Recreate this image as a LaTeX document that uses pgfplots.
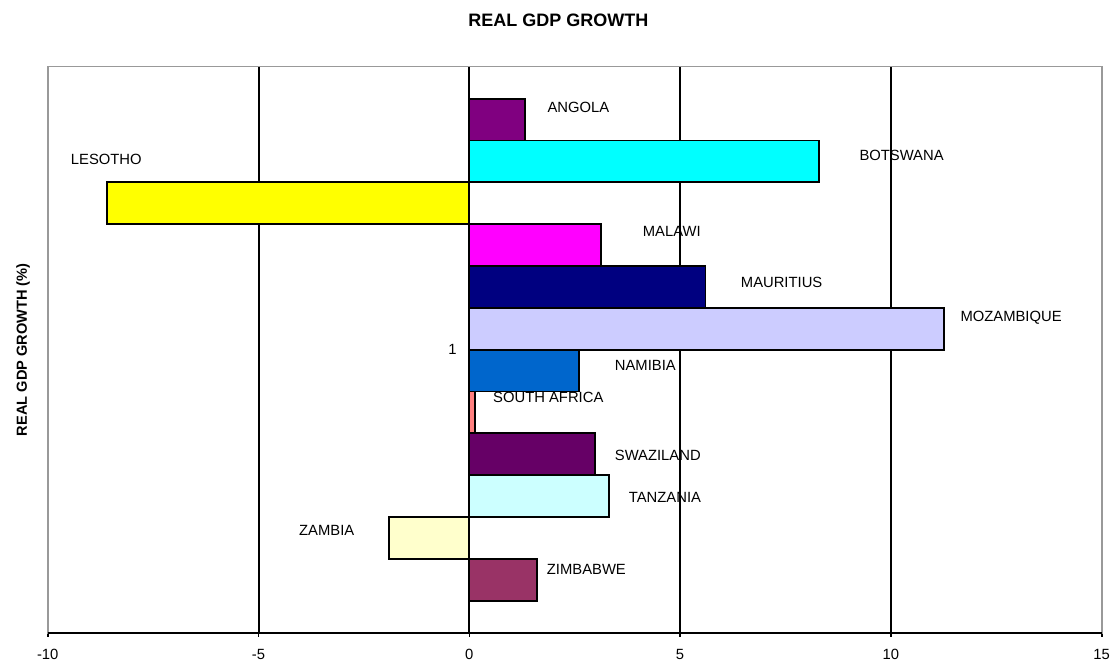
\documentclass[border=0pt]{standalone}
\usepackage{pgfplots}
\pgfplotsset{compat=1.18}
\usepackage{fontspec}
\setmainfont{Liberation Sans}
\definecolor{cAngola}{HTML}{800080}
\definecolor{cBotswana}{HTML}{00FFFF}
\definecolor{cLesotho}{HTML}{FFFF00}
\definecolor{cMalawi}{HTML}{FF00FF}
\definecolor{cMauritius}{HTML}{000080}
\definecolor{cMozambique}{HTML}{CCCCFF}
\definecolor{cNamibia}{HTML}{0066CC}
\definecolor{cSouthAfrica}{HTML}{FF8080}
\definecolor{cSwaziland}{HTML}{660066}
\definecolor{cTanzania}{HTML}{CCFFFF}
\definecolor{cZambia}{HTML}{FFFFCC}
\definecolor{cZimbabwe}{HTML}{993366}
\definecolor{bordergray}{HTML}{999999}
\begin{document}
\begin{tikzpicture}
\begin{axis}[
  scale only axis, width=527pt, height=283pt,
  xmin=-10, xmax=15, ymin=-0.265, ymax=13.265,
  xtick={-10,-5,0,5,10,15},
  ytick=\empty,
  axis line style={draw=bordergray, line width=0.8pt},
  tick align=outside, xtick pos=left,
  major tick length=2pt,
  x tick style={black, line width=0.8pt},
  extra x ticks={-5,0,5,10}, extra x tick labels={},
  extra x tick style={grid=major, major grid style={black, line width=1pt}, major tick length=0pt},
  ticklabel style={font=\fontsize{7.4}{9}\selectfont},
  xticklabel style={yshift=-2.8pt},
  /pgf/number format/assume math mode=true,
  clip=false,
  ylabel={REAL GDP GROWTH (\%)},
  ylabel style={at={(rel axis cs:-0.0234,0.5)}, anchor=center, font=\bfseries\fontsize{7.3}{9}\selectfont},
  every axis plot/.append style={line width=0.9pt, draw=black},
]
\addplot[xbar, bar width=1, line width=0.9pt, fill=cAngola] coordinates {(1.33,12)};
\addplot[xbar, bar width=1, line width=0.9pt, fill=cBotswana] coordinates {(8.30,11)};
\addplot[xbar, bar width=1, line width=0.9pt, fill=cLesotho] coordinates {(-8.59,10)};
\addplot[xbar, bar width=1, line width=0.9pt, fill=cMalawi] coordinates {(3.13,9)};
\addplot[xbar, bar width=1, line width=0.9pt, fill=cMauritius] coordinates {(5.60,8)};
\addplot[xbar, bar width=1, line width=0.9pt, fill=cMozambique] coordinates {(11.25,7)};
\addplot[xbar, bar width=1, line width=0.9pt, fill=cNamibia] coordinates {(2.60,6)};
\addplot[xbar, bar width=1, line width=0.9pt, fill=cSouthAfrica] coordinates {(0.14,5)};
\addplot[xbar, bar width=1, line width=0.9pt, fill=cSwaziland] coordinates {(2.98,4)};
\addplot[xbar, bar width=1, line width=0.9pt, fill=cTanzania] coordinates {(3.32,3)};
\addplot[xbar, bar width=1, line width=0.9pt, fill=cZambia] coordinates {(-1.90,2)};
\addplot[xbar, bar width=1, line width=0.9pt, fill=cZimbabwe] coordinates {(1.61,1)};
% series name labels
\addplot[draw=none, mark=none, nodes near coords, point meta=explicit symbolic,
  every node near coord/.append style={anchor=west, inner sep=0pt, font=\fontsize{7.4}{9}\selectfont, text=black}]
  table[col sep=comma, row sep=\\, meta=label] {
x,y,label\\
1.836,12.287,ANGOLA\\
9.234,11.139,BOTSWANA\\
-9.471,11.037,LESOTHO\\
4.096,9.339,MALAWI\\
6.421,8.120,MAURITIUS\\
11.63,7.267,MOZAMBIQUE\\
3.432,6.119,NAMIBIA\\
0.546,5.354,SOUTH AFRICA\\
3.432,3.984,SWAZILAND\\
3.764,2.980,TANZANIA\\
-4.056,2.191,ZAMBIA\\
1.819,1.252,ZIMBABWE\\
};
\node[anchor=east, inner sep=0pt, font=\fontsize{7.4}{9}\selectfont] at ([xshift=-6.2pt]axis cs:0,6.5) {1};
\node[anchor=center, inner sep=0pt, font=\bfseries\fontsize{9}{11}\selectfont] at (rel axis cs:0.4846,1.0825) {REAL GDP GROWTH};
\draw[black, line width=1pt] (rel axis cs:0,0) -- (rel axis cs:1,0);
\coordinate (bbl) at (rel axis cs:-0.04526,-0.05353);
\coordinate (btr) at (rel axis cs:1.00787,1.11784);
\end{axis}
\pgfresetboundingbox
\path[use as bounding box] (bbl) rectangle (btr);
\end{tikzpicture}
\end{document}
